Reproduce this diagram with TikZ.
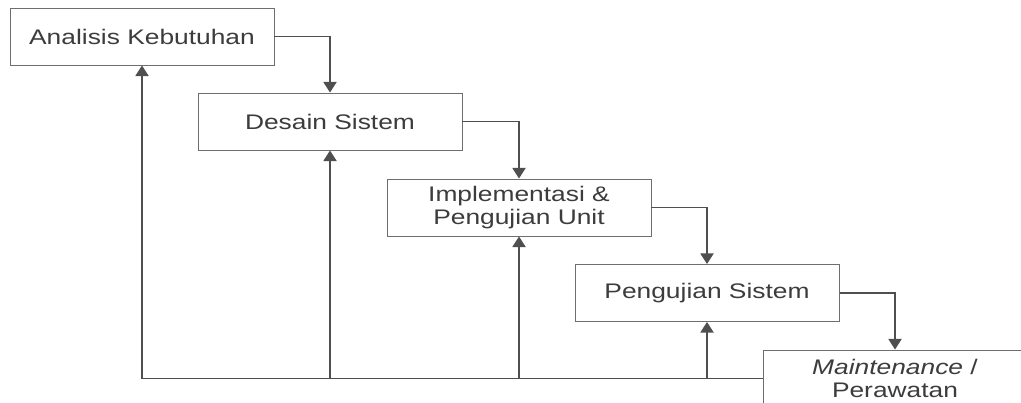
\documentclass[tikz,border=0pt]{standalone}
\usepackage{fontspec}
\setmainfont{Liberation Sans}[FakeStretch=1.25]
\usetikzlibrary{arrows.meta}
\definecolor{boxline}{HTML}{6E6E6E}
\definecolor{wireline}{HTML}{4F4F4F}
\definecolor{textgray}{HTML}{3C3C3C}

\begin{document}
\begin{tikzpicture}
		\tikzstyle{block} = [rectangle, draw=boxline, line width=0.55pt, fill=white, text=textgray,
		minimum width=5.28cm, minimum height=1.14cm, inner sep=0pt, align=center,
		font=\fontsize{12}{13.3}\selectfont]
		\tikzstyle{wire} = [draw=wireline, line width=0.7pt]
		\tikzstyle{tri} = [wire, -{Triangle[length=6pt,width=7.5pt]}]
		
		\clip (0,0) rectangle (20.42,-8.06);
		
		\node [block] (v1) at (2.84,-0.73) {Analisis Kebutuhan};
		\node [block] (v2) at (6.60,-2.43) {Desain Sistem};
		\node [block] (v3) at (10.38,-4.15) {Implementasi \&\\ Pengujian Unit};
		\node [block] (v4) at (14.14,-5.86) {Pengujian Sistem};
		\node [block] (v5) at (17.90,-7.57) {\textit{Maintenance} /\\ Perawatan};
		
		\draw [tri] (v1) -| (v2);
		\draw [tri] (v2) -| (v3);
		\draw [tri] (v3) -| (v4);
		\draw [tri] (v4) -| (v5);
		
		% way back
		\draw [tri] (v5.west) -| (v1);
		\coordinate (c2) at (v2 |- v5.west);
		\coordinate (c3) at (v3 |- v5.west);
		\coordinate (c4) at (v4 |- v5.west);
		\draw [tri] (c2) -- (v2);
		\draw [tri] (c3) -- (v3);
		\draw [tri] (c4) -- (v4);
\end{tikzpicture}
\end{document}
